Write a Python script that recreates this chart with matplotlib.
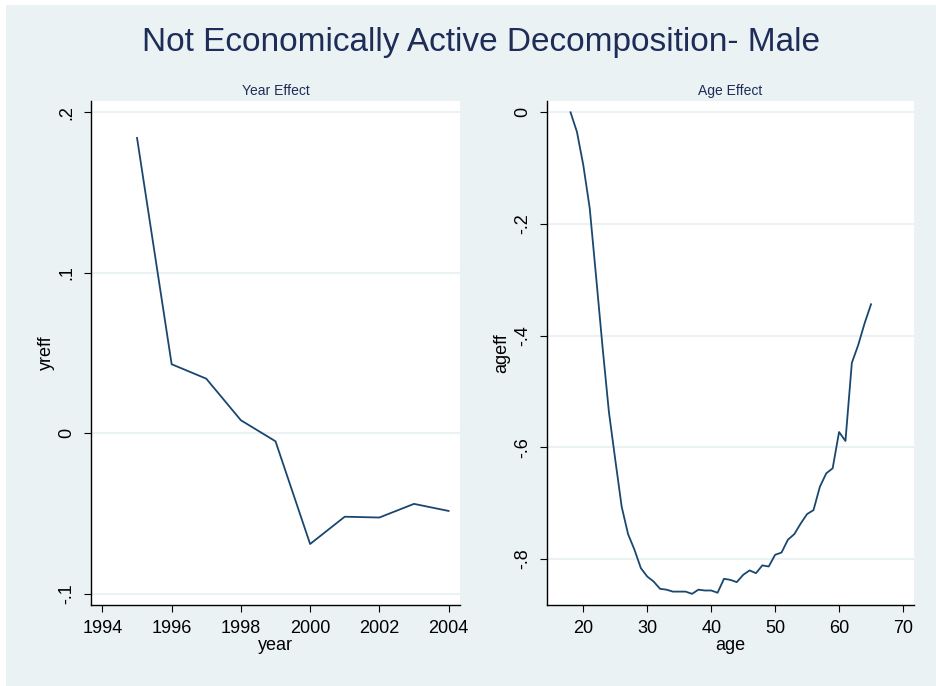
import matplotlib
matplotlib.use("Agg")
import matplotlib.pyplot as plt
from matplotlib.patches import Rectangle

plt.rcParams['font.family'] = ['Liberation Sans', 'DejaVu Sans']

# year effects
years = [1995, 1996, 1997, 1998, 1999, 2000, 2001, 2002, 2003, 2004]
yreff = [0.184, 0.043, 0.034, 0.0081, -0.005, -0.069, -0.052, -0.0525, -0.044, -0.0484]

# age effects
ages = list(range(18, 66))
ageff = [0.0, -0.035, -0.095, -0.172, -0.295, -0.42, -0.537, -0.623, -0.707, -0.756,
         -0.784, -0.817, -0.832, -0.841, -0.854, -0.8555, -0.859, -0.859, -0.859, -0.863,
         -0.8555, -0.857, -0.857, -0.861, -0.836, -0.838, -0.842, -0.829, -0.821, -0.826,
         -0.812, -0.814, -0.793, -0.789, -0.766, -0.756, -0.737, -0.72, -0.713, -0.671,
         -0.647, -0.638, -0.573, -0.589, -0.449, -0.417, -0.378, -0.344]

year_ticks = [1994, 1996, 1998, 2000, 2002, 2004]
yreff_ticks = [-0.1, 0, 0.1, 0.2]
yreff_labels = ['-.1', '0', '.1', '.2']
age_ticks = [20, 30, 40, 50, 60, 70]
ageff_ticks = [-0.8, -0.6, -0.4, -0.2, 0]
ageff_labels = ['-.8', '-.6', '-.4', '-.2', '0']

BG = '#eaf2f3'
LINE = '#1a476f'
NAVY = '#1e2d58'

fig = plt.figure(figsize=(9.37, 6.86), dpi=100, facecolor='white')
fig.patches.append(Rectangle((6 / 937, 0), 1 - 6 / 937, 1 - 5 / 686,
                             transform=fig.transFigure, facecolor=BG,
                             edgecolor='none', zorder=-10))

fig.text(0.513, 1 - 42 / 686, 'Not Economically Active Decomposition- Male',
         ha='center', va='center', fontsize=24, color=NAVY)


def style(ax, title, xlabel, ylabel):
    ax.set_facecolor('white')
    for s in ['top', 'right']:
        ax.spines[s].set_visible(False)
    for s in ['left', 'bottom']:
        ax.spines[s].set_color('black')
        ax.spines[s].set_linewidth(1.0)
    ax.tick_params(direction='out', length=5, width=0.8, pad=6,
                   labelsize=13, colors='black')
    ax.grid(axis='y', color=BG, linewidth=1.5)
    ax.set_axisbelow(True)
    ax.set_title(title, fontsize=10, color=NAVY, pad=4)
    ax.set_xlabel(xlabel, fontsize=13, labelpad=0)
    ax.set_ylabel(ylabel, fontsize=13, labelpad=3)
    for lab in ax.get_yticklabels():
        lab.set_rotation(90)
        lab.set_va('center')


# left: year effect
ax1 = fig.add_axes([91 / 937, 1 - 605 / 686, 369 / 937, 504 / 686])
ax1.plot(years, yreff, color=LINE, linewidth=1.3)
ax1.set_xlim(1993.67, 2004.33)
ax1.set_ylim(-0.107, 0.207)
ax1.set_xticks(year_ticks)
ax1.set_yticks(yreff_ticks)
ax1.set_yticklabels(yreff_labels)
style(ax1, 'Year Effect', 'year', 'yreff')

# right: age effect
ax2 = fig.add_axes([546.7 / 937, 1 - 605 / 686, 367.6 / 937, 504 / 686])
ax2.plot(ages, ageff, color=LINE, linewidth=1.3)
ax2.set_xlim(14.27, 71.77)
ax2.set_ylim(-0.883, 0.0203)
ax2.set_xticks(age_ticks)
ax2.set_yticks(ageff_ticks)
ax2.set_yticklabels(ageff_labels)
style(ax2, 'Age Effect', 'age', 'ageff')

fig.savefig('out.png', dpi=100, facecolor='white')
